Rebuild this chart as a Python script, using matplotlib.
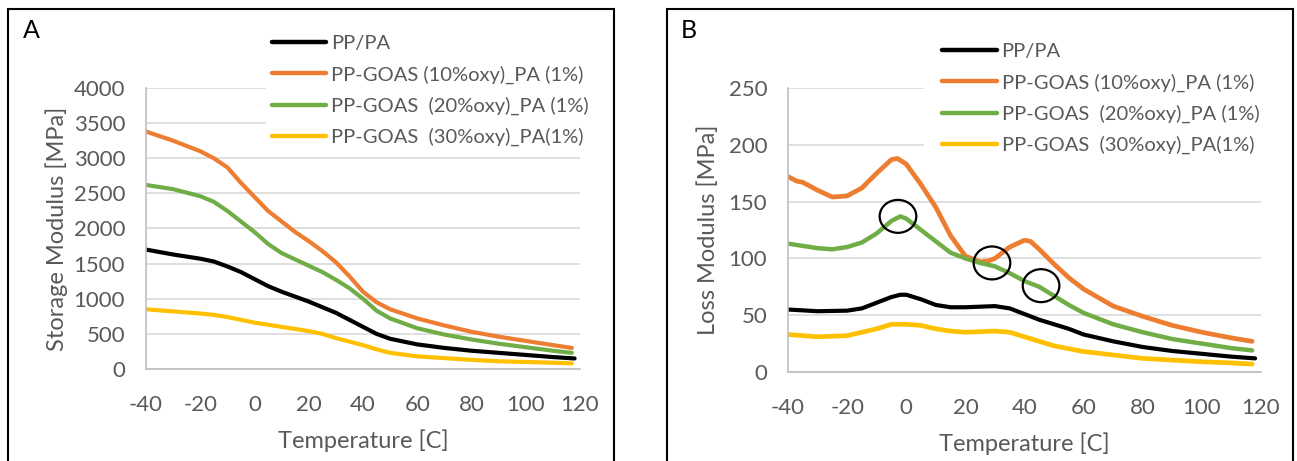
import numpy as np
import matplotlib.pyplot as plt
from matplotlib.patches import Rectangle, Ellipse

plt.rcParams["font.family"] = ["Lato", "DejaVu Sans"]
plt.rcParams["axes.unicode_minus"] = False

W, H = 1297, 461

labels = [
    "PP/PA",
    "PP-GOAS (10%oxy)_PA (1%)",
    "PP-GOAS  (20%oxy)_PA (1%)",
    "PP-GOAS  (30%oxy)_PA(1%)",
]
colors = ["#000000", "#ED7D31", "#70AD47", "#FFC000"]

# Panel A: storage modulus [MPa]
tA_black = [-40, -30, -20, -15, -10, -5, 0, 5, 10, 20, 30, 35, 40, 45, 50, 60, 70, 80, 90, 100, 110, 118]
eA_black = [1700, 1630, 1570, 1530, 1460, 1380, 1280, 1180, 1100, 960, 800, 700, 600, 500, 430, 350, 300, 260, 230, 200, 170, 150]
tA_orange = [-40, -30, -20, -15, -10, -5, 0, 5, 10, 15, 20, 25, 30, 35, 40, 45, 50, 60, 70, 80, 90, 100, 110, 117]
eA_orange = [3380, 3250, 3100, 3000, 2870, 2650, 2450, 2250, 2100, 1950, 1820, 1680, 1520, 1320, 1100, 950, 850, 720, 620, 530, 460, 400, 340, 300]
tA_green = [-40, -30, -20, -15, -10, -5, 0, 5, 10, 20, 25, 30, 35, 40, 45, 50, 60, 70, 80, 90, 100, 110, 117]
eA_green = [2620, 2560, 2460, 2380, 2250, 2100, 1950, 1780, 1650, 1470, 1380, 1270, 1150, 1000, 830, 720, 580, 490, 420, 360, 310, 260, 230]
tA_yellow = [-40, -30, -20, -15, -10, -5, 0, 10, 20, 25, 30, 40, 45, 50, 60, 70, 80, 90, 100, 110, 117]
eA_yellow = [850, 820, 790, 770, 740, 700, 660, 600, 540, 500, 440, 340, 280, 230, 180, 155, 130, 110, 100, 90, 80]

# Panel B: loss modulus [MPa]
tB_black = [-40, -30, -20, -15, -10, -5, -2, 0, 5, 10, 15, 20, 25, 30, 35, 40, 45, 50, 55, 60, 70, 80, 90, 100, 110, 118]
eB_black = [55, 53.5, 54, 56, 61, 66, 68, 68, 64, 59, 57, 57, 57.5, 58, 56, 51, 46, 42, 38, 33, 27, 22, 18.5, 16, 13.5, 12]
tB_orange = [-40, -37, -35, -30, -25, -20, -15, -10, -5, -3, 0, 5, 10, 15, 20, 25, 28, 30, 35, 40, 42, 45, 50, 55, 60, 70, 80, 90, 100, 110, 117]
eB_orange = [172, 168, 167, 160, 154, 155, 162, 175, 187, 188, 183, 165, 145, 120, 102, 97, 98, 100, 110, 116, 115, 108, 95, 83, 73, 58, 49, 41, 35, 30, 27]
tB_green = [-40, -30, -25, -20, -15, -10, -5, -2, 0, 5, 10, 15, 20, 25, 30, 35, 40, 45, 50, 55, 60, 70, 80, 90, 100, 110, 117]
eB_green = [113, 109, 108, 110, 114, 122, 133, 137, 135, 125, 115, 105, 100, 96, 93, 87, 80, 75, 67, 59, 52, 42, 35, 29, 25, 21, 19]
tB_yellow = [-40, -30, -20, -15, -10, -5, 0, 5, 10, 15, 20, 25, 30, 35, 40, 45, 50, 60, 70, 80, 90, 100, 110, 117]
eB_yellow = [33, 31, 32, 35, 38, 42, 42, 41, 38, 36, 35, 35.5, 36, 35, 31, 27, 23, 18, 15, 12, 10.5, 9, 8, 7]

# circled points on panel B (temperature, modulus)
circle_t = [-2.8, 29.0, 45.6]
circle_e = [137, 96, 76]

txt = "#595959"
grid_c = "#d9d9d9"


def fx(px):
    return px / W


def fy(py):
    return 1 - py / H


fig = plt.figure(figsize=(W / 100, H / 100), dpi=100)

# panel frames
for x0, x1 in [(8, 614), (667, 1293)]:
    fig.patches.append(
        Rectangle((fx(x0), fy(480)), fx(x1) - fx(x0), fy(9) - fy(480),
                  transform=fig.transFigure, fill=False, edgecolor="black", linewidth=1.5)
    )

axA = fig.add_axes([fx(146), fy(369), fx(580) - fx(146), fy(88) - fy(369)])
axB = fig.add_axes([fx(788), fy(372), fx(1261) - fx(788), fy(88) - fy(372)])

seriesA = [(tA_black, eA_black), (tA_orange, eA_orange), (tA_green, eA_green), (tA_yellow, eA_yellow)]
seriesB = [(tB_black, eB_black), (tB_orange, eB_orange), (tB_green, eB_green), (tB_yellow, eB_yellow)]

for ax, series, ymax, ystep, ylabel, widths, ypad in [
    (axA, seriesA, 4000, 500, "Storage Modulus [MPa]", [3.0, 3.0, 3.0, 3.0], 4),
    (axB, seriesB, 250, 50, "Loss Modulus [MPa]", [3.0, 3.4, 3.2, 3.4], 7),
]:
    for (t, e), c, lab, lw in zip(series, colors, labels, widths):
        ax.plot(t, e, color=c, lw=lw, label=lab, solid_capstyle="round", solid_joinstyle="round")
    ax.set_xlim(-40, 120)
    ax.set_ylim(0, ymax)
    ax.set_xticks(np.arange(-40, 121, 20))
    ax.set_yticks(np.arange(0, ymax + 1, ystep))
    ax.grid(axis="y", color=grid_c, lw=1.2)
    ax.set_axisbelow(True)
    for s in ["top", "right"]:
        ax.spines[s].set_visible(False)
    for s in ["left", "bottom"]:
        ax.spines[s].set_color("#bfbfbf")
        ax.spines[s].set_linewidth(1.2)
    ax.tick_params(length=0, labelsize=16, colors=txt)
    ax.tick_params(axis="x", pad=19)
    ax.tick_params(axis="y", pad=15)
    ax.set_xlabel("Temperature [C]", fontsize=17, color=txt, labelpad=10)
    ax.set_ylabel(ylabel, fontsize=17, color=txt, labelpad=ypad)

for cx, cy in zip(circle_t, circle_e):
    axB.add_patch(Ellipse((cx, cy), 12.4, 29, fill=False, edgecolor="black", lw=1.6, zorder=5))

legA = axA.legend(loc="upper left", bbox_to_anchor=(fx(266), fy(29)), bbox_transform=fig.transFigure,
                  fontsize=14.5, handlelength=2.7, handletextpad=0.25, labelspacing=0.65,
                  frameon=True, fancybox=False, borderpad=0.3, borderaxespad=0)
legB = axB.legend(loc="upper left", bbox_to_anchor=(fx(924), fy(25)), bbox_transform=fig.transFigure,
                  fontsize=14.5, handlelength=2.7, handletextpad=0.25, labelspacing=0.65,
                  frameon=True, fancybox=False, borderpad=0.9, borderaxespad=0)
for leg in (legA, legB):
    leg.get_frame().set_edgecolor("none")
    leg.get_frame().set_facecolor("white")
    leg.get_frame().set_alpha(1)
    for t in leg.get_texts():
        t.set_color(txt)
    for l in leg.get_lines():
        l.set_linewidth(3.2)

fig.text(fx(23), fy(31), "A", fontsize=18, va="center", ha="left")
fig.text(fx(681), fy(31), "B", fontsize=18, va="center", ha="left")

fig.savefig("out.png", dpi=100)
